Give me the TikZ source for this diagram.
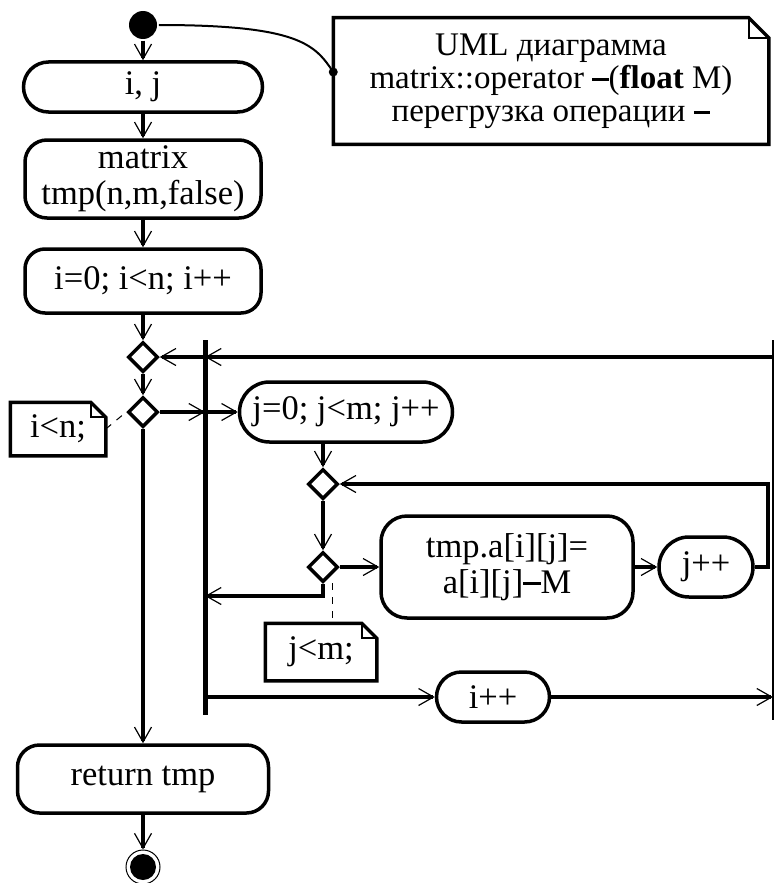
\documentclass[tikz,border=0pt]{standalone}
\usepackage{fontspec}
\setmainfont{Liberation Serif}
\usetikzlibrary{arrows.meta,shapes.geometric}

% thick minus as drawn in the diagram
\newcommand\bminus{\rule[0.23em]{0.5em}{0.09em}}

% note outline with folded corner: node name, fold size
\newcommand\notefold[2]{%
  \draw (#1.north west) -- ([xshift=-#2]#1.north east) -- ([yshift=-#2]#1.north east)
    -- (#1.south east) -- (#1.south west) -- cycle;
  \draw[line width=2pt] ([xshift=-#2]#1.north east) -- ([xshift=-#2,yshift=-#2]#1.north east)
    -- ([yshift=-#2]#1.north east);
}

\begin{document}
\begin{tikzpicture}[x=1pt,y=-1pt,line width=3.5pt,
    font=\fontsize{34.5}{36}\selectfont,
    >={Straight Barb[length=15pt,width=17pt,line width=1.2pt]},
    act/.style={draw,rectangle,rounded corners=#1,align=center,inner sep=0pt},
    merge/.style={draw,diamond,aspect=1,minimum width=30pt,minimum height=30pt,inner sep=0pt},
    startdot/.style={circle,fill,minimum size=28pt,inner sep=0pt},
    enddot/.style={circle,draw,line width=1pt,minimum size=34pt,inner sep=0pt},
    note/.style={rectangle,align=center,inner sep=0pt},
    notelink/.style={line width=1pt,dash pattern=on 7pt off 7pt}]
  \useasboundingbox (0,0) rectangle (776,883);

  % main column
  \node[startdot] (start) at (143,25) {};
  \node[act=25pt,minimum width=239pt,minimum height=50pt] (ij) at (143,87) {i, j};
  \node[act=22pt,minimum width=236pt,minimum height=78pt] (mtx) at (143,179) {matrix\\tmp(n,m,false)};
  \node[act=20pt,minimum width=236pt,minimum height=64pt] (iloop) at (143,281) {i=0; i<n; i++};
  \node[merge] (d1) at (143,357) {};
  \node[merge] (d2) at (143,412) {};
  \node[act=22pt,minimum width=251pt,minimum height=68pt] (ret) at (143,779) {return tmp};
  \node[enddot] (end) at (143,867) {};
  \fill (end) circle (13pt);

  % inner loop
  \node[act=30pt,minimum width=213pt,minimum height=60pt] (jloop) at (346,412) {j=0; j<m; j++};
  \node[merge] (d3) at (323,484) {};
  \node[merge] (d4) at (323,567) {};
  \node[act=26pt,minimum width=252pt,minimum height=102pt] (asg) at (507,567) {tmp.a[i][j]=\\a[i][j]\bminus M};
  \node[act=30pt,minimum width=94pt,minimum height=60pt] (jinc) at (706,567) {j++};
  \node[act=25pt,minimum width=113pt,minimum height=50pt] (iinc) at (493,697) {i++};

  % notes
  \node[note,minimum width=432pt,minimum height=123pt,font=\fontsize{33}{33}\selectfont] (uml) at (551,81)
    {UML диаграмма\\matrix::operator \bminus(\textbf{float} M)\\перегрузка операции \bminus};
  \notefold{uml}{20pt}
  \node[note,minimum width=92pt,minimum height=50pt] (ncond) at (58,429) {i<n;};
  \notefold{ncond}{15pt}
  \node[note,minimum width=108pt,minimum height=54pt] (jcond) at (321,652) {j<m;};
  \notefold{jcond}{15pt}

  % bars
  \coordinate (bar) at (205,340);
  \coordinate (barend) at (205,715);
  \coordinate (rb) at (773,340);
  \coordinate (rbend) at (773,720);
  \coordinate (jback) at (205,596);
  \coordinate (ibar) at (205,697);
  \coordinate (jtag) at (332,583);
  \coordinate (umldot) at ([yshift=9pt]uml.west);
  \draw[line width=5pt] (bar) -- (barend);
  \draw[line width=2.5pt] (rb) -- (rbend);

  % flow
  \draw[->] (start) -- (ij);
  \draw[->] (ij) -- (mtx);
  \draw[->] (mtx) -- (iloop);
  \draw[->] (iloop) -- (d1);
  \draw[->] (d1) -- (d2);
  \draw[->] (d1.east -| rb) -- (d1.east -| bar);
  \draw[->] (d1.east -| bar) -- (d1.east);
  \draw[->] (d2.east) -- (d2.east -| bar);
  \draw[->] (d2.east -| bar) -- (jloop.west);
  \draw[->] (jloop.south -| d3) -- (d3);
  \draw[->] (d3) -- (d4);
  \draw[->] (d4) -- (asg);
  \draw[->] (asg) -- (jinc);
  \draw[->] (jinc.east) -- ++(13,0) |- (d3.east);
  \draw[->] (d4.south) |- (jback);
  \draw[->] (ibar) -- (iinc);
  \draw[->] (iinc) -- (iinc -| rb);
  \draw[->] (d2) -- (ret);
  \draw[->] (ret) -- (end);

  % note links
  \draw[line width=2pt] (start.east) .. controls (300,25) and (315,45) .. (umldot);
  \fill (umldot) circle (4.5pt);
  \draw[notelink] (ncond.east) -- (d2.west);
  \draw[notelink] (jtag) -- (jtag |- jcond.north);
\end{tikzpicture}
\end{document}
